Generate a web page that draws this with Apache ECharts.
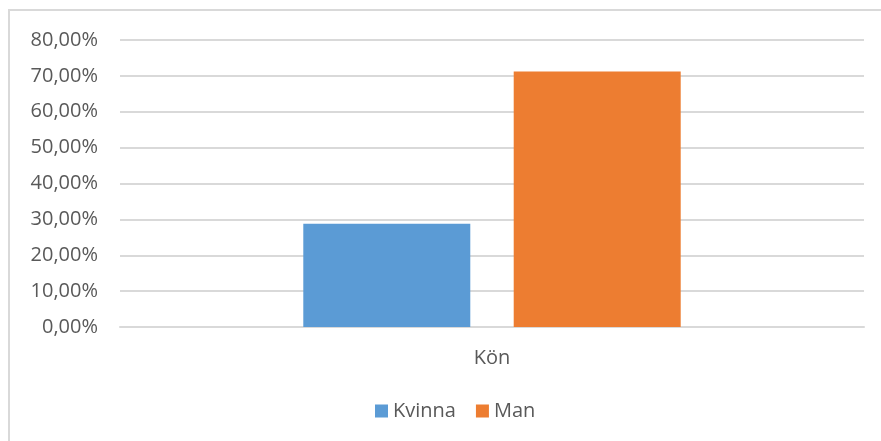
<!DOCTYPE html>
<html>
<head>
<meta charset="utf-8">
<script src="https://cdn.jsdelivr.net/npm/echarts@6/dist/echarts.min.js"></script>
<style>
html, body { margin: 0; padding: 0; background: #fff; }
#frame { position: absolute; left: 8px; top: 9px; width: 873px; height: 432px;
  border-top: 2px solid #d9d9d9; border-left: 2px solid #d9d9d9; }
#chart { position: absolute; left: 0; top: 0; width: 881px; height: 441px; }
</style>
</head>
<body>
<div id="frame"></div>
<div id="chart"></div>
<script>
// data
var categories = ['Kön'];
var kvinna = [28.8];
var man = [71.2];
var seriesNames = ['Kvinna', 'Man'];

var myChart = echarts.init(document.getElementById('chart'));

option = {
	color: ['#5b9bd5', '#ed7d31'],
	textStyle: {
		fontFamily: 'Open Sans'
	},
	grid: {
		left: 120,
		right: 17,
		top: 40,
		bottom: 114
	},
	legend: {
		data: seriesNames,
		bottom: 15,
		left: 370,
		itemWidth: 13,
		itemHeight: 13,
		itemGap: 20,
		icon: 'rect',
		textStyle: {
			color: '#595959',
			fontSize: 20
		}
	},
	xAxis: [{
		type: 'category',
		data: categories,
		axisLine: {
			lineStyle: { color: '#d9d9d9', width: 2 }
		},
		axisTick: { show: false },
		axisLabel: {
			color: '#595959',
			fontSize: 20,
			margin: 21
		}
	}],
	yAxis: [{
		type: 'value',
		min: 0,
		max: 80,
		interval: 10,
		axisLine: { show: false },
		axisTick: { show: false },
		axisLabel: {
			color: '#595959',
			fontSize: 20,
			margin: 22,
			formatter: function (v) {
				return v.toFixed(2).replace('.', ',') + '%';
			}
		},
		splitLine: {
			lineStyle: { color: '#d9d9d9', width: 2 }
		}
	}],
	series: [{
			name: seriesNames[0],
			type: 'bar',
			barWidth: 167,
			barGap: '26%',
			data: kvinna
		},
		{
			name: seriesNames[1],
			type: 'bar',
			barWidth: 167,
			data: man
		}
	]
};
myChart.setOption(option);
</script>
</body>
</html>
